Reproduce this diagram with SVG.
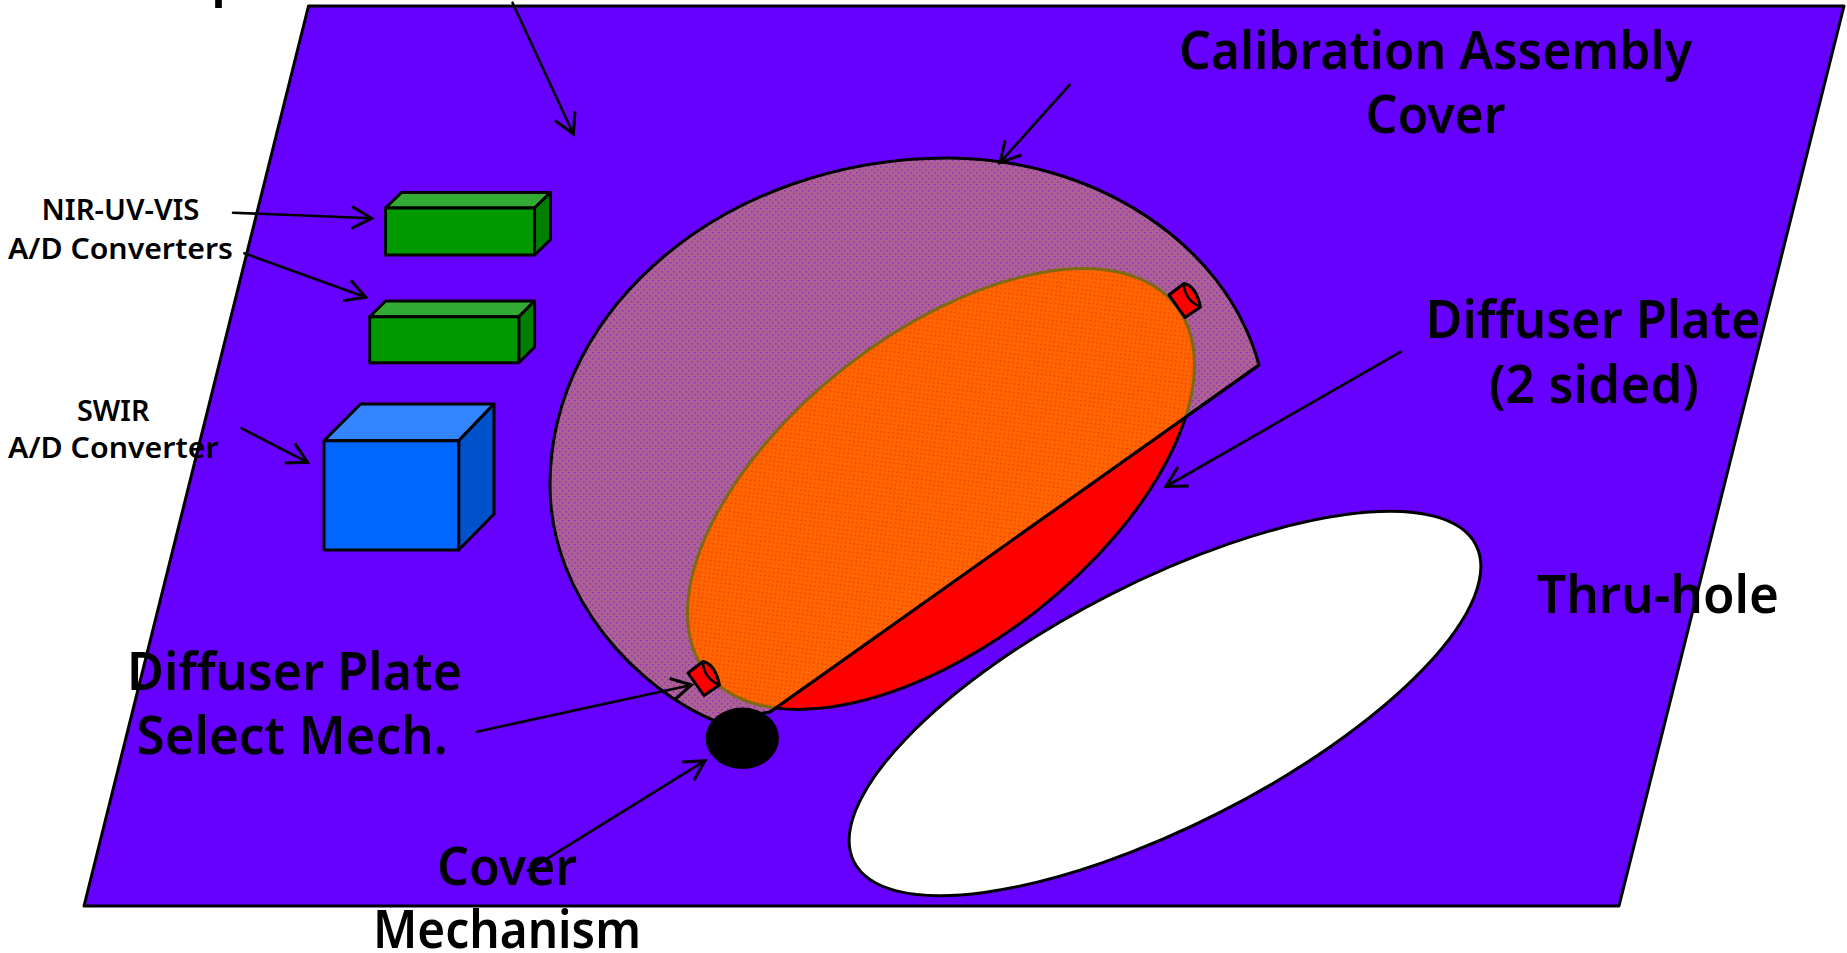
<svg xmlns="http://www.w3.org/2000/svg" xmlns:xlink="http://www.w3.org/1999/xlink" width="1847" height="953" viewBox="0 0 1847 953">
<style>
.o{stroke:#000;stroke-width:3;stroke-linejoin:round}
.a{fill:none;stroke:#000;stroke-width:2.6;stroke-linecap:round}
text{font-family:"Noto Sans","DejaVu Sans",sans-serif;fill:#000;font-weight:600}
.b{font-size:53px}
.s{font-size:28px}
</style>
<defs>
<marker id="h" markerUnits="userSpaceOnUse" markerWidth="44" markerHeight="44" refX="22" refY="22" orient="auto" overflow="visible"><path d="M2,11 L22,22 L2,33" fill="none" stroke="#000" stroke-width="3"/></marker>
<pattern id="m" width="6" height="6" patternUnits="userSpaceOnUse"><rect width="6" height="6" fill="#ad6092"/><rect x="1" y="1" width="1.5" height="1.5" fill="#8a30c8"/><rect x="4" y="4" width="1.5" height="1.5" fill="#8a30c8"/></pattern>
<pattern id="r" width="6" height="6" patternUnits="userSpaceOnUse"><rect width="6" height="6" fill="#ff6600"/><rect x="1" y="1" width="1.5" height="1.5" fill="#f53c00"/><rect x="4" y="4" width="1.5" height="1.5" fill="#f53c00"/></pattern>
<clipPath id="cc"><path d="M1259,365 C1225,240 1090,158 948,158 C729,158 550,305 550,485 C550,600 640,690 715,721 L770,712 Z"/></clipPath>
<g id="cyl"><path d="M1169,295 L1184,283.5 Q1196,286 1200.5,307 L1185,317.5 Z" fill="#f00" class="o"/><path d="M1184,284 Q1184,299 1200,307" fill="none" stroke="#000" stroke-width="2.5"/></g>
</defs>
<polygon id="plate" points="308.5,6 1844,6 1619,906 84,906" fill="#6600ff" class="o"/>
<g id="red-plate"><ellipse cx="941" cy="489" rx="298" ry="155" transform="rotate(-38 941 489)" fill="#f00" class="o"/></g>
<g id="cover"><path d="M1259,365 C1225,240 1090,158 948,158 C729,158 550,305 550,485 C550,600 640,690 715,721 L770,712 Z" fill="url(#m)" class="o"/></g>
<g id="orange" clip-path="url(#cc)"><ellipse cx="941" cy="489" rx="298" ry="155" transform="rotate(-38 941 489)" fill="url(#r)" stroke="#7f6a10" stroke-width="3"/></g>
<line x1="1259" y1="365" x2="770" y2="712" class="o"/>
<g id="hole"><ellipse cx="1165" cy="703.5" rx="349" ry="122" transform="rotate(-27 1165 703.5)" fill="#fff" class="o"/></g>
<g id="mech"><ellipse cx="742.3" cy="738.3" rx="36.7" ry="30.7" fill="#000"/></g>
<g id="sel1"><use href="#cyl"/></g>
<g id="sel2"><use href="#cyl" transform="translate(-481,378)"/></g>
<g id="conv1"><polygon points="385.5,208 401.5,192.5 550.5,192.5 534.6,208" fill="#33aa33" class="o"/><polygon points="534.6,208 550.5,192.5 550.5,239.5 534.6,255" fill="#008000" class="o"/><rect x="385.5" y="208" width="149" height="47" fill="#009900" class="o"/></g>
<g id="conv2"><polygon points="369.7,316.7 385.7,301 534.6,301 518.8,316.7" fill="#33aa33" class="o"/><polygon points="518.8,316.7 534.6,301 534.6,347 518.8,362.7" fill="#008000" class="o"/><rect x="369.7" y="316.7" width="149" height="46" fill="#009900" class="o"/></g>
<g id="swir"><polygon points="324,440.7 360.6,404 494,404 458.7,440.7" fill="#3385ff" class="o"/><polygon points="458.7,440.7 494,404 494,514 458.7,550" fill="#0052cc" class="o"/><rect x="324" y="440.7" width="134.7" height="109.3" fill="#0066ff" class="o"/></g>
<g id="connectors">
<line x1="512.5" y1="2.7" x2="573.4" y2="134" class="a" marker-end="url(#h)"/>
<line x1="233" y1="212.7" x2="371.7" y2="218.3" class="a" marker-end="url(#h)"/>
<line x1="244.4" y1="253.3" x2="365.8" y2="297.3" class="a" marker-end="url(#h)"/>
<line x1="241.6" y1="428.3" x2="307.6" y2="462.3" class="a" marker-end="url(#h)"/>
<line x1="477" y1="731.7" x2="691.5" y2="685" class="a" marker-end="url(#h)"/>
<line x1="527.7" y1="870.7" x2="705" y2="760.7" class="a" marker-end="url(#h)"/>
<line x1="1069.6" y1="84.8" x2="1000" y2="162.6" class="a" marker-end="url(#h)"/>
<line x1="1401" y1="351.7" x2="1166" y2="486.5" class="a" marker-end="url(#h)"/>
</g>
<g id="labels">
<text class="b" x="211" y="-5">p</text>
<text class="b" x="1179" y="69" textLength="513" lengthAdjust="spacingAndGlyphs">Calibration Assembly</text>
<text class="b" x="1365.5" y="133" textLength="140" lengthAdjust="spacingAndGlyphs">Cover</text>
<text class="b" x="1425.5" y="338" textLength="335" lengthAdjust="spacingAndGlyphs">Diffuser Plate</text>
<text class="b" x="1489" y="403" textLength="210" lengthAdjust="spacingAndGlyphs">(2 sided)</text>
<text class="b" x="1537" y="613" textLength="242" lengthAdjust="spacingAndGlyphs">Thru-hole</text>
<text class="b" x="127" y="690" textLength="335" lengthAdjust="spacingAndGlyphs">Diffuser Plate</text>
<text class="b" x="136.6" y="754" textLength="311" lengthAdjust="spacingAndGlyphs">Select Mech.</text>
<text class="b" x="437" y="885" textLength="140" lengthAdjust="spacingAndGlyphs">Cover</text>
<text class="b" x="373" y="948" textLength="268" lengthAdjust="spacingAndGlyphs">Mechanism</text>
<text class="s" x="41.5" y="220" textLength="158" lengthAdjust="spacingAndGlyphs">NIR-UV-VIS</text>
<text class="s" x="8" y="259" textLength="225" lengthAdjust="spacingAndGlyphs">A/D Converters</text>
<text class="s" x="77" y="420.7" textLength="72.5" lengthAdjust="spacingAndGlyphs">SWIR</text>
<text class="s" x="8" y="458" textLength="210.7" lengthAdjust="spacingAndGlyphs">A/D Converter</text>
</g>
</svg>
